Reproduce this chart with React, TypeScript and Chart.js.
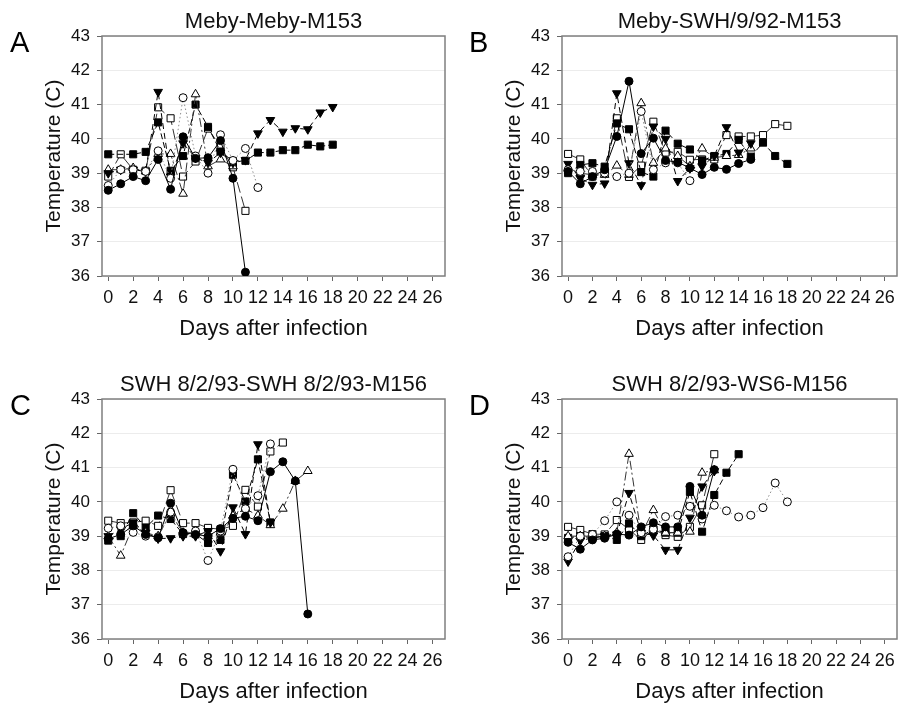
import React, { useEffect, useRef } from "react";
import { Chart, registerables } from "chart.js";

Chart.register(...registerables);

const FONT = "'Liberation Sans', Arial, Helvetica, sans-serif";

// ---- axis settings / labels ----
const X_TITLE = "Days after infection";
const Y_TITLE = "Temperature (C)";
const X_MIN = -0.5;
const X_MAX = 27;
const X_STEP = 2;
const Y_MIN = 36;
const Y_MAX = 43;
const Y_STEP = 1;

// ---- panel titles & letters ----
const panelTitles = [
  "Meby-Meby-M153",
  "Meby-SWH/9/92-M153",
  "SWH 8/2/93-SWH 8/2/93-M156",
  "SWH 8/2/93-WS6-M156",
];
const panelLetters = ["A", "B", "C", "D"];

// ---- data: temperature per day (index = day after infection) ----
// Panel A
const A_filledCircle = [38.5, 38.69, 38.9, 38.78, 39.4, 38.53, 40.06, 39.43, 39.45, 39.95, 38.85, 36.11];
const A_openCircle = [38.64, 39.1, 39.1, 39.05, 39.65, 38.85, 41.2, 39.5, 39.0, 40.12, 39.37, 39.72, 38.58];
const A_filledTriangle = [39.0, 39.1, 39.1, 39.05, 41.37, 38.9, 39.87, 39.45, 39.3, 39.6, 39.3, 39.38, 40.16, 40.55, 40.21, 40.31, 40.28, 40.77, 40.93];
const A_openTriangle = [39.1, 39.1, 39.15, 39.05, 39.56, 39.56, 38.4, 41.3, 39.2, 39.4, 39.2];
const A_filledSquare = [39.55, null, 39.55, 39.62, 40.48, 39.07, 39.5, 41.0, 40.35, 39.63, 39.35, 39.36, 39.6, 39.6, 39.67, 39.67, 39.83, 39.78, 39.83];
const A_openSquare = [38.9, 39.55, 39.1, 39.07, 40.92, 40.6, 38.9, 39.34, 40.3, 39.77, 39.17, 37.9];

// Panel B
const B_filledCircle = [39.05, 38.69, 38.9, 39.1, 40.07, 41.68, 39.57, 40.02, 39.37, 39.32, 39.15, 38.96, 39.17, 39.11, 39.28, 39.4];
const B_openCircle = [39.1, 39.05, 39.05, 39.0, 38.9, 39.0, 40.8, 39.1, 39.3, 39.3, 38.78];
const B_filledTriangle = [39.27, 38.85, 38.66, 38.7, 41.33, 39.29, 38.65, 40.36, 40.0, 38.77, 39.14, 39.2, 39.5, 40.34, 39.6, 39.87];
const B_openTriangle = [39.14, 39.0, 38.95, 38.95, 39.22, 38.95, 41.04, 39.3, 39.72, 39.5, 39.2, 39.72, 39.45, 39.5, 39.53, 39.72];
const B_filledSquare = [39.0, 39.24, 39.29, 39.19, 40.45, 40.28, 39.03, 38.9, 40.24, 39.86, 39.69, 39.37, 39.5, 39.56, 39.97, 39.48, 39.89, 39.5, 39.27];
const B_openSquare = [39.56, 39.4, 38.9, 39.0, 40.6, 38.89, 39.22, 40.5, 39.6, 39.62, 39.39, 39.4, 39.4, 40.11, 40.07, 40.07, 40.11, 40.43, 40.38];

// Panel C
const C_filledCircle = [38.92, 39.05, 39.3, 39.05, 38.95, 39.96, 39.1, 39.05, 39.0, 39.22, 39.52, 39.58, 39.45, 40.88, 41.17, 40.61, 36.73];
const C_openCircle = [39.23, 39.3, 39.11, 39.0, 38.98, 39.7, 39.1, 39.15, 38.29, 39.15, 40.95, 39.8, 40.18, 41.69];
const C_filledTriangle = [39.0, 39.2, 39.4, 39.1, 38.93, 38.94, 39.0, 39.0, 39.15, 38.56, 39.84, 39.06, 41.68, 39.4];
const C_openTriangle = [39.0, 38.43, 39.3, 39.1, 39.0, 39.66, 39.1, 39.1, 39.0, 39.1, 39.6, 39.8, 39.6, 39.32, 39.8, 40.61, 40.9];
const C_filledSquare = [38.87, 39.0, 39.67, 39.25, 39.6, 39.5, 39.06, 39.06, 38.8, 38.89, 40.79, 40.01, 41.24, 39.4];
const C_openSquare = [39.45, 39.38, 39.4, 39.45, 39.3, 40.34, 39.38, 39.38, 39.24, 39.2, 39.3, 40.35, 39.86, 41.47, 41.73];

// Panel D
const D_filledCircle = [38.82, 38.62, 38.89, 38.94, 39.06, 39.03, 39.27, 39.39, 39.27, 39.27, 40.45, 39.61, 40.94];
const D_openCircle = [38.4, 39.0, 39.05, 39.45, 40.0, 39.61, 39.1, 39.2, 39.57, 39.61, 39.87, 39.5, 39.9, 39.74, 39.56, 39.61, 39.83, 40.55, 40.0];
const D_filledTriangle = [38.26, 38.87, 38.95, 39.0, 39.05, 40.26, 39.1, 39.02, 38.6, 38.6, 39.54, 40.45, 40.9];
const D_openTriangle = [39.0, 39.0, 39.0, 39.0, 39.1, 41.4, 39.05, 39.76, 39.1, 39.1, 39.13, 40.85, 40.92];
const D_filledSquare = [38.95, 39.0, 38.95, 39.0, 38.89, 39.37, 39.0, 39.2, 39.1, 39.1, 40.29, 39.13, 40.2, 40.85, 41.39];
const D_openSquare = [39.27, 39.18, 39.06, 39.05, 39.47, 39.2, 38.89, 39.2, 39.03, 38.98, 39.27, 39.9, 41.39];

const panelSeries = [
  [A_filledCircle, A_openCircle, A_filledTriangle, A_openTriangle, A_filledSquare, A_openSquare],
  [B_filledCircle, B_openCircle, B_filledTriangle, B_openTriangle, B_filledSquare, B_openSquare],
  [C_filledCircle, C_openCircle, C_filledTriangle, C_openTriangle, C_filledSquare, C_openSquare],
  [D_filledCircle, D_openCircle, D_filledTriangle, D_openTriangle, D_filledSquare, D_openSquare],
];

// ---- styles (one per animal series) ----
const seriesStyles = [
  { pointStyle: "circle", rotation: 0, fill: "#000", radius: 4, dash: [] as number[], line: "#000" },
  { pointStyle: "circle", rotation: 0, fill: "#fff", radius: 4, dash: [1.5, 2.5], line: "#8c8c8c" },
  { pointStyle: "triangle", rotation: 180, fill: "#000", radius: 5, dash: [6, 4], line: "#000" },
  { pointStyle: "triangle", rotation: 0, fill: "#fff", radius: 5, dash: [9, 3, 2, 3], line: "#333" },
  { pointStyle: "rect", rotation: 0, fill: "#000", radius: 5, dash: [6, 3], line: "#000" },
  { pointStyle: "rect", rotation: 0, fill: "#fff", radius: 5, dash: [11, 4], line: "#333" },
];

// ---- layout ----
const panelBoxes = [
  { left: 0, top: 0, width: 451, height: 352, rightPad: 4 },
  { left: 460, top: 0, width: 443, height: 352, rightPad: 2 },
  { left: 0, top: 363, width: 451, height: 352, rightPad: 4 },
  { left: 460, top: 363, width: 443, height: 352, rightPad: 2 },
];
const letterPos = [
  { left: 10, top: 28 },
  { left: 469, top: 28 },
  { left: 10, top: 391 },
  { left: 469, top: 391 },
];

const framePlugin = {
  id: "frame",
  beforeDatasetsDraw(chart: any) {
    const { ctx, chartArea } = chart;
    const { left, top, right, bottom } = chartArea;
    ctx.save();
    ctx.strokeStyle = "#7f7f7f";
    ctx.lineWidth = 1.5;
    ctx.strokeRect(left, top, right - left, bottom - top);
    ctx.restore();
  },
};

function Panel({ index }: { index: number }) {
  const ref = useRef<HTMLCanvasElement>(null);
  const box = panelBoxes[index];
  useEffect(() => {
    const datasets = panelSeries[index].map((vals, si) => {
      const st = seriesStyles[si];
      const data = vals
        .map((v, i) => ({ x: i, y: v }))
        .filter((p) => p.y !== null && p.y !== undefined);
      return {
        label: `Animal ${si + 1}`,
        data,
        borderColor: st.line,
        borderWidth: 1,
        borderDash: st.dash,
        tension: 0,
        fill: false,
        spanGaps: true,
        pointStyle: st.pointStyle,
        pointRotation: st.rotation,
        pointRadius: st.radius,
        pointBackgroundColor: st.fill,
        pointBorderColor: "#000",
        pointBorderWidth: 1,
      };
    });
    const chart = new Chart(ref.current!, {
      type: "line",
      data: { datasets } as any,
      options: {
        responsive: false,
        animation: false,
        devicePixelRatio: 1,
        layout: { padding: { left: 0, right: box.rightPad, top: 0, bottom: 0 } },
        plugins: {
          legend: { display: false },
          tooltip: { enabled: false },
          title: {
            display: true,
            text: panelTitles[index],
            fullSize: false,
            color: "#111",
            font: { family: FONT, size: 22, weight: "normal" },
            padding: { top: 8.8, bottom: 0.8 },
          },
        },
        scales: {
          x: {
            type: "linear",
            min: X_MIN,
            max: X_MAX,
            ticks: {
              stepSize: X_STEP,
              includeBounds: false,
              autoSkip: false,
              maxRotation: 0,
              color: "#111",
              padding: 6,
              font: { family: FONT, size: 18 },
            },
            grid: { drawOnChartArea: false, drawTicks: true, tickLength: 5, tickColor: "#666" },
            border: { display: false },
            title: {
              display: true,
              text: X_TITLE,
              color: "#111",
              font: { family: FONT, size: 22 },
              padding: { top: 0, bottom: 9.8 },
            },
            afterFit: (s: any) => {
              s.height = 76;
            },
          },
          y: {
            type: "linear",
            min: Y_MIN,
            max: Y_MAX,
            ticks: {
              stepSize: Y_STEP,
              color: "#111",
              padding: 7,
              font: { family: FONT, size: 17 },
            },
            grid: { color: "#ececec", drawTicks: true, tickLength: 5, tickColor: "#666" },
            border: { display: false },
            title: {
              display: true,
              text: Y_TITLE,
              color: "#111",
              font: { family: FONT, size: 21 },
              padding: { top: 42, bottom: 0 },
            },
            afterFit: (s: any) => {
              s.width = 102;
            },
          },
        },
      } as any,
      plugins: [framePlugin],
    });
    return () => chart.destroy();
  }, [index]);
  return (
    <canvas
      ref={ref}
      width={box.width}
      height={box.height}
      style={{ position: "absolute", left: box.left, top: box.top, width: box.width, height: box.height }}
    />
  );
}

export default function App() {
  return (
    <div
      style={{
        position: "absolute",
        left: 0,
        top: 0,
        width: 903,
        height: 705,
        background: "#fff",
        overflow: "hidden",
      }}
    >
      {[0, 1, 2, 3].map((i) => (
        <Panel key={i} index={i} />
      ))}
      {panelLetters.map((l, i) => (
        <div
          key={l}
          style={{
            position: "absolute",
            left: letterPos[i].left,
            top: letterPos[i].top,
            fontFamily: FONT,
            fontSize: 29,
            lineHeight: "29px",
            color: "#000",
          }}
        >
          {l}
        </div>
      ))}
    </div>
  );
}
